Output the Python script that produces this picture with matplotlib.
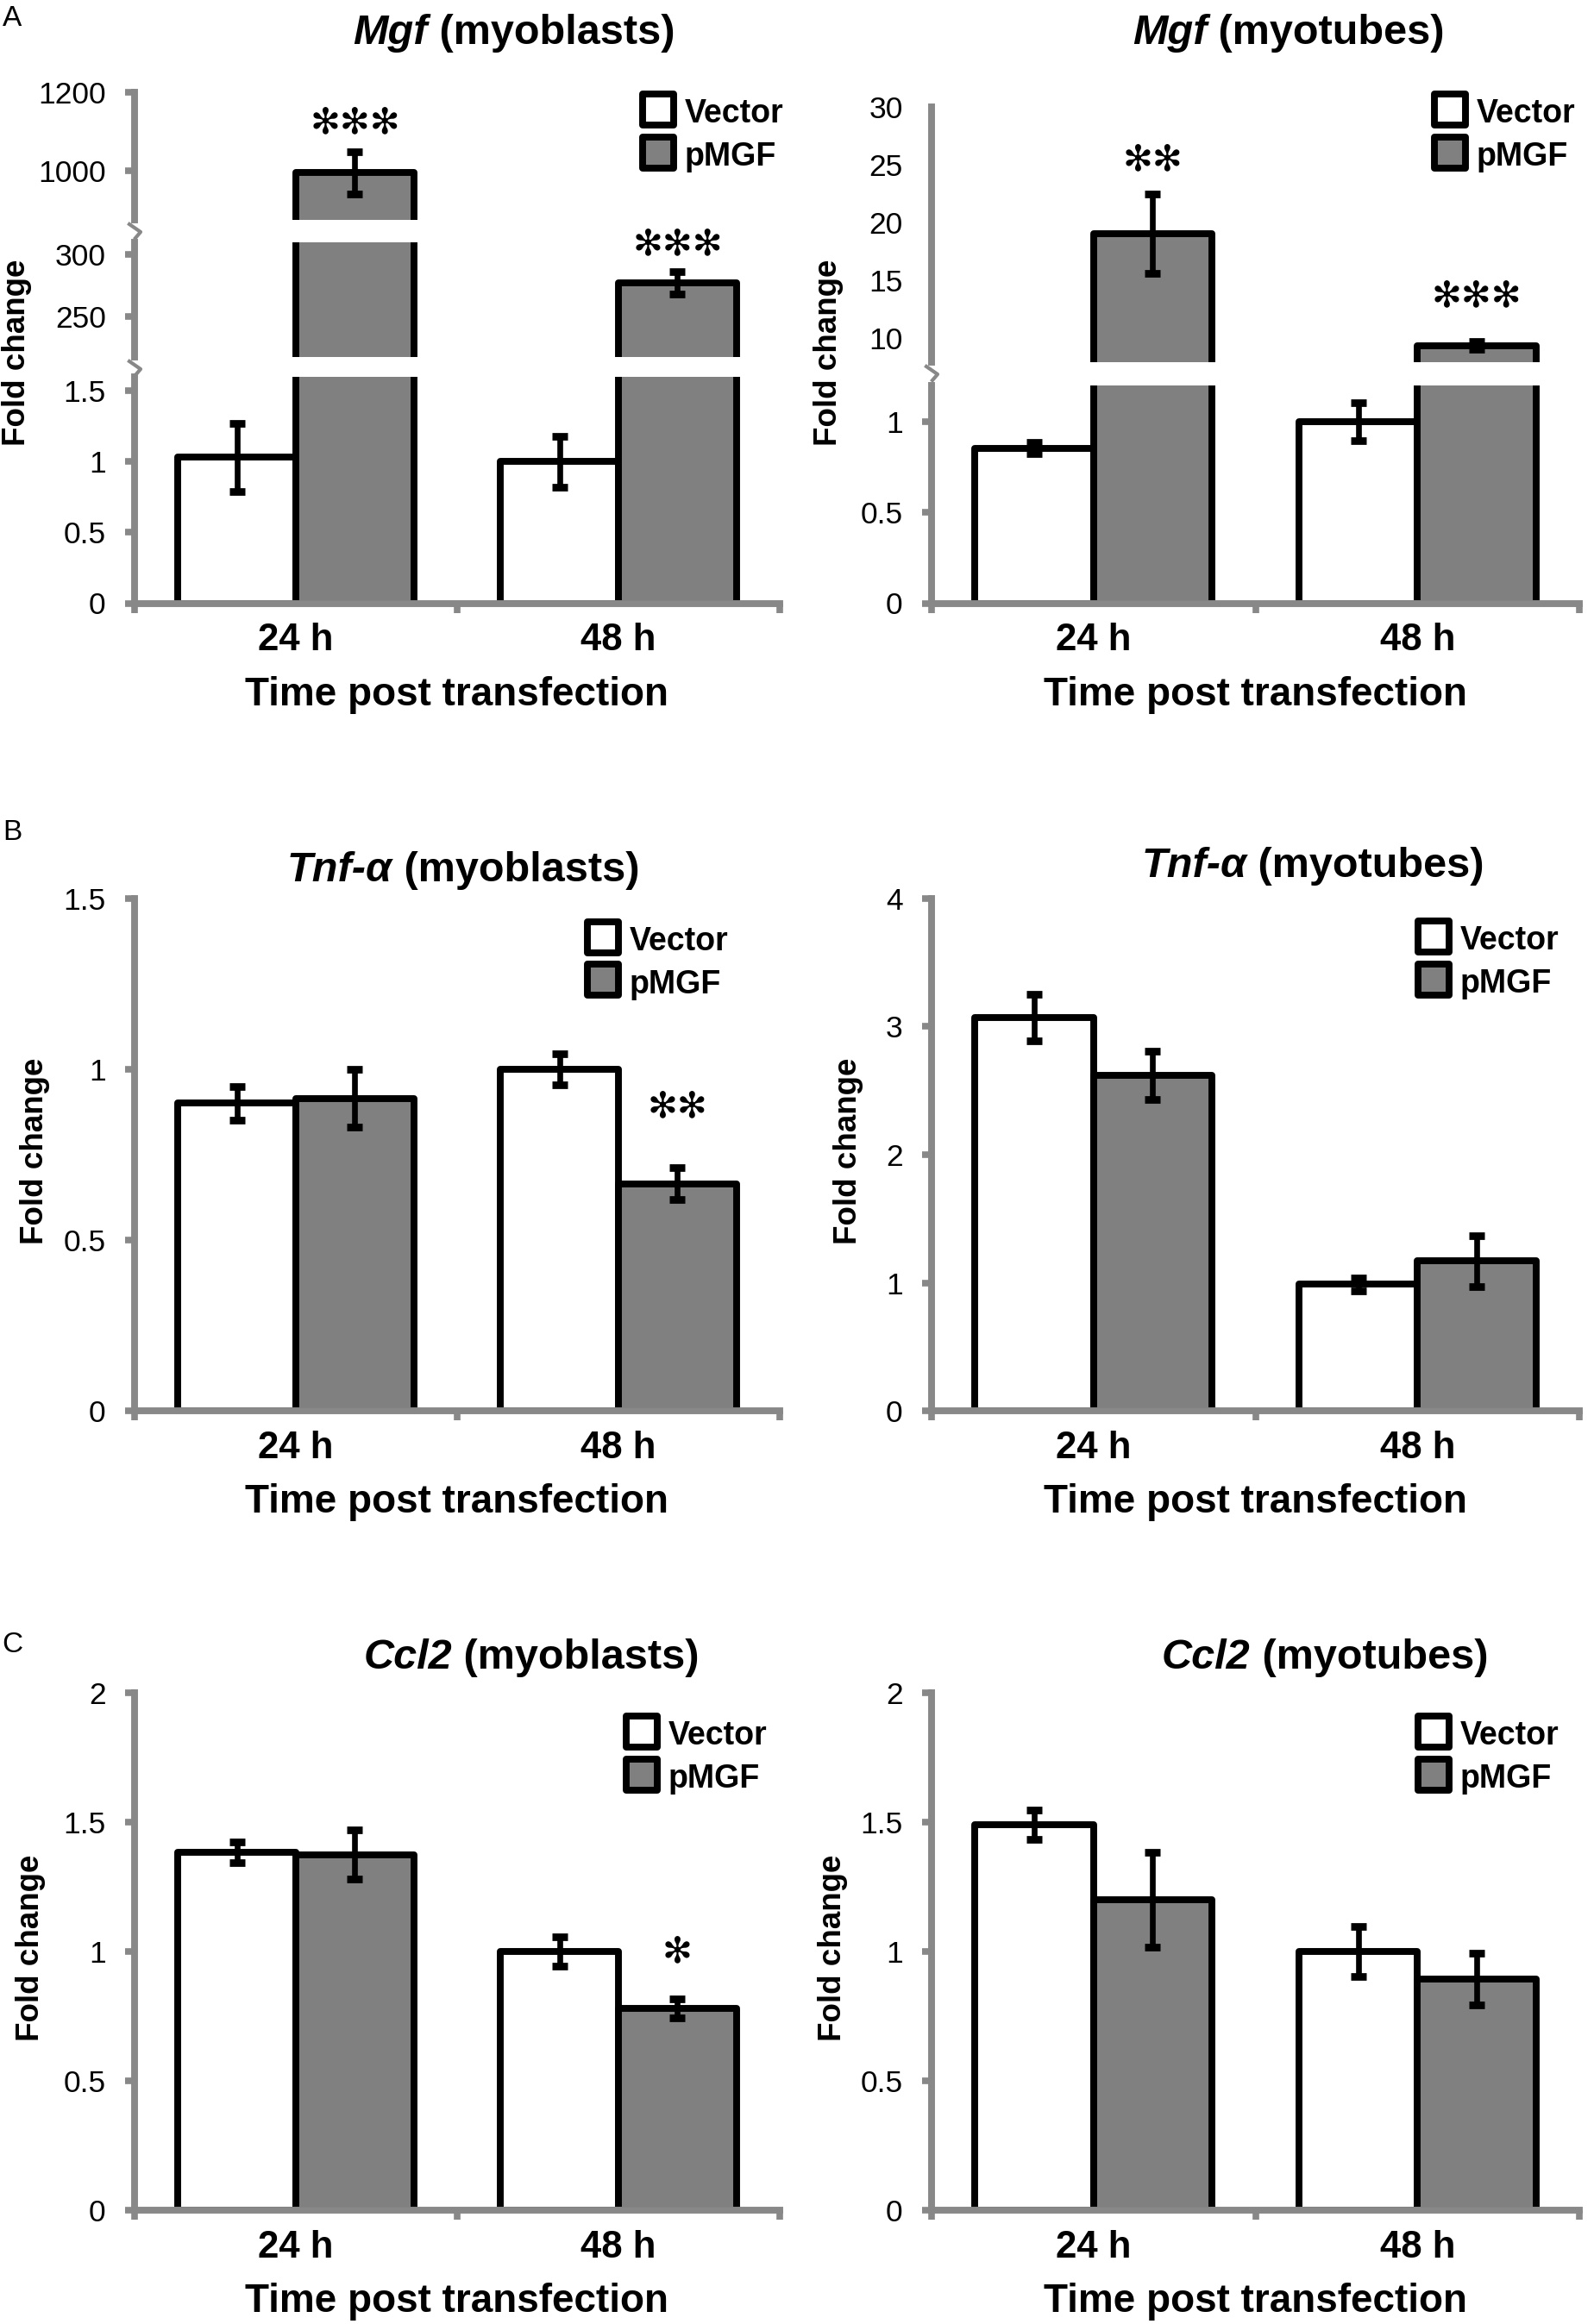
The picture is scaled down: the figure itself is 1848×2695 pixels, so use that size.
import numpy as np
import matplotlib.pyplot as plt
from matplotlib.patches import Rectangle
from matplotlib.lines import Line2D
from matplotlib.offsetbox import TextArea, HPacker, AnnotationBbox
from matplotlib.ticker import FuncFormatter

plt.rcParams['font.family'] = ['Liberation Sans', 'DejaVu Sans']

W, H = 1849, 2695

times = ["24 h", "48 h"]
groups = ["Vector", "pMGF"]

# Mgf
mgf_blast_vec = [1.03, 1.00]
mgf_blast_vec_err = [0.24, 0.18]
mgf_blast_pm = [995, 277]
mgf_blast_pm_err = [53, 9]
mgf_tube_vec = [0.855, 1.00]
mgf_tube_vec_err = [0.03, 0.105]
mgf_tube_pm = [19.0, 9.35]
mgf_tube_pm_err = [3.45, 0.35]

# Tnf-a
tnf_blast_vec = [0.90, 1.00]
tnf_blast_vec_err = [0.05, 0.045]
tnf_blast_pm = [0.915, 0.665]
tnf_blast_pm_err = [0.085, 0.047]
tnf_tube_vec = [3.07, 0.99]
tnf_tube_vec_err = [0.18, 0.05]
tnf_tube_pm = [2.62, 1.17]
tnf_tube_pm_err = [0.19, 0.20]

# Ccl2
ccl2_blast_vec = [1.385, 1.00]
ccl2_blast_vec_err = [0.04, 0.058]
ccl2_blast_pm = [1.375, 0.78]
ccl2_blast_pm_err = [0.095, 0.038]
ccl2_tube_vec = [1.49, 1.00]
ccl2_tube_vec_err = [0.058, 0.096]
ccl2_tube_pm = [1.20, 0.895]
ccl2_tube_pm_err = [0.183, 0.10]

# significance marks (text, y level in data units) for pMGF bars
mgf_blast_sig = [("***", 1121), ("***", 307.9)]
mgf_tube_sig = [("**", 25.4), ("***", 13.65)]
tnf_blast_sig = [None, ("**", 0.89)]
tnf_tube_sig = [None, None]
ccl2_blast_sig = [None, ("*", 1.0)]
ccl2_tube_sig = [None, None]

GRAY = '#888888'
BARGRAY = '#808080'
AX_LW = 5.7
BAR_LW = 5.7
BW = 0.366

fig = plt.figure(figsize=(W / 100, H / 100), dpi=100)


def fx(px):
    return px / W


def fy(py):
    return 1 - py / H


fmt = FuncFormatter(lambda v, p: "%g" % v)


def make_segment(x0, x1, y0, y1, ylim, ticks, bottom, marks=True):
    ax = fig.add_axes([fx(x0), fy(y1), (x1 - x0) / W, (y1 - y0) / H])
    ax.set_xlim(-0.5, 1.5)
    ax.set_ylim(*ylim)
    for s in ['top', 'right']:
        ax.spines[s].set_visible(False)
    ax.spines['left'].set_color(GRAY)
    ax.spines['left'].set_linewidth(AX_LW)
    ax.spines['bottom'].set_color(GRAY)
    ax.spines['bottom'].set_linewidth(AX_LW)
    ax.set_yticks(ticks)
    ax.yaxis.set_major_formatter(fmt)
    if marks:
        ax.tick_params(axis='y', direction='out', length=8, width=5.5,
                       color=GRAY, labelsize=25.5, pad=16)
    else:
        ax.tick_params(axis='y', length=0, labelsize=25.5, pad=24)
    if bottom:
        ax.set_xticks([-0.5, 0.5, 1.5])
        ax.tick_params(axis='x', direction='out', length=8, width=5.5,
                       color=GRAY, labelbottom=False)
    else:
        ax.spines['bottom'].set_visible(False)
        ax.set_xticks([])
    ax.patch.set_alpha(0)
    return ax


def draw_bars(ax, vec, vec_err, pm, pm_err):
    x = np.arange(len(times))
    ax.bar(x - BW / 2, vec, BW, color='white', edgecolor='black',
           linewidth=BAR_LW, joinstyle='round', zorder=1)
    ax.bar(x + BW / 2, pm, BW, color=BARGRAY, edgecolor='black',
           linewidth=BAR_LW, joinstyle='round', zorder=1)
    for xs, v, e in [(x - BW / 2, vec, vec_err), (x + BW / 2, pm, pm_err)]:
        ax.errorbar(xs, v, yerr=e, fmt='none', ecolor='black',
                    elinewidth=4.8, capsize=6.8, capthick=6.3, zorder=3)


def squiggle(xa, ytop):
    pts = [(-6, 5), (7, 14), (1, 21)]
    xs = [fx(xa + a) for a, b in pts]
    ys = [fy(ytop + b) for a, b in pts]
    fig.add_artist(Line2D(xs, ys, color=GRAY, lw=3, transform=fig.transFigure))


def title(xc, yb, gene, rest):
    t1 = TextArea(gene, textprops=dict(fontsize=35, fontweight='bold',
                                       fontstyle='italic'))
    t2 = TextArea(rest, textprops=dict(fontsize=35, fontweight='bold'))
    box = HPacker(children=[t1, t2], align='baseline', pad=0, sep=0)
    ab = AnnotationBbox(box, (fx(xc), fy(yb + 10)), xycoords='figure fraction',
                        box_alignment=(0.5, 0), frameon=False, pad=0)
    fig.add_artist(ab)


def legend(xl, yc):
    for i, (name, col) in enumerate(zip(groups, ['white', BARGRAY])):
        y = yc + i * 50
        fig.add_artist(Rectangle((fx(xl + 4), fy(y + 18)), 36 / W, 36 / H,
                                 facecolor=col, edgecolor='black', lw=5.7,
                                 joinstyle='round', transform=fig.transFigure))
        fig.text(fx(xl + 53), fy(y + 15), name, fontsize=27,
                 fontweight='bold', va='baseline', ha='left')


def labels(ax):
    for i, t in enumerate(times):
        ax.annotate(t, xy=(i, 0), xycoords=('data', 'axes fraction'),
                    xytext=(0, -55 * 0.72), textcoords='offset points',
                    ha='center', va='baseline', fontsize=31.5, fontweight='bold')
    ax.annotate("Time post transfection", xy=(0.5, 0), xycoords='axes fraction',
                xytext=(0, -118 * 0.72), textcoords='offset points',
                ha='center', va='baseline', fontsize=33, fontweight='bold')


def stars(axes, sig):
    for i, s in enumerate(sig):
        if s is None:
            continue
        txt, yv = s
        for ax in axes:
            lo, hi = ax.get_ylim()
            if lo <= yv <= hi:
                ax.text(i + BW / 2, yv, txt.replace("*", "\u273b"), ha='center',
                        va='center', fontsize=30, family='DejaVu Sans',
                        clip_on=False, zorder=5)
                break


LEFT = (156, 904)
RIGHT = (1080, 1831)

# ---- Row A ----
a_low = make_segment(*LEFT, 437, 699.5, (0, 1.597), [0, 0.5, 1, 1.5], True)
a_mid = make_segment(*LEFT, 281, 414, (217.4, 309.7), [250, 300], False)
a_top = make_segment(*LEFT, 106.6, 255, (875.3, 1200), [1000, 1200], False)
for ax in (a_low, a_mid, a_top):
    draw_bars(ax, mgf_blast_vec, mgf_blast_vec_err, mgf_blast_pm, mgf_blast_pm_err)
stars([a_top, a_mid], mgf_blast_sig)
labels(a_low)
squiggle(LEFT[0], 255)
squiggle(LEFT[0], 414)

b_low = make_segment(*RIGHT, 447, 699.5, (0, 1.2), [0, 0.5, 1], True)
b_up = make_segment(*RIGHT, 123.8, 420, (7.9, 30), [10, 15, 20, 25, 30], False,
                    marks=False)
for ax in (b_low, b_up):
    draw_bars(ax, mgf_tube_vec, mgf_tube_vec_err, mgf_tube_pm, mgf_tube_pm_err)
stars([b_up], mgf_tube_sig)
labels(b_low)
squiggle(RIGHT[0], 420)

title(596, 51, "Mgf", " (myoblasts)")
title(1494, 51, "Mgf", " (myotubes)")
legend(741, 127)
legend(1659, 127)

# ---- Row B ----
c_l = make_segment(*LEFT, 1041.6, 1636.3, (0, 1.5), [0, 0.5, 1, 1.5], True)
draw_bars(c_l, tnf_blast_vec, tnf_blast_vec_err, tnf_blast_pm, tnf_blast_pm_err)
stars([c_l], tnf_blast_sig)
labels(c_l)
c_r = make_segment(*RIGHT, 1041.6, 1636.3, (0, 4), [0, 1, 2, 3, 4], True)
draw_bars(c_r, tnf_tube_vec, tnf_tube_vec_err, tnf_tube_pm, tnf_tube_pm_err)
stars([c_r], tnf_tube_sig)
labels(c_r)
title(537, 1022, "Tnf-\u03b1", " (myoblasts)")
title(1522, 1017, "Tnf-\u03b1", " (myotubes)")
legend(677, 1086.5)
legend(1640, 1086)

# ---- Row C ----
d_l = make_segment(*LEFT, 1963, 2563, (0, 2), [0, 0.5, 1, 1.5, 2], True)
draw_bars(d_l, ccl2_blast_vec, ccl2_blast_vec_err, ccl2_blast_pm, ccl2_blast_pm_err)
stars([d_l], ccl2_blast_sig)
labels(d_l)
d_r = make_segment(*RIGHT, 1963, 2563, (0, 2), [0, 0.5, 1, 1.5, 2], True)
draw_bars(d_r, ccl2_tube_vec, ccl2_tube_vec_err, ccl2_tube_pm, ccl2_tube_pm_err)
stars([d_r], ccl2_tube_sig)
labels(d_r)
title(616, 1935, "Ccl2", " (myoblasts)")
title(1536, 1935, "Ccl2", " (myotubes)")
legend(722, 2008)
legend(1640, 2008)

# y labels
for xp, yp in [(20, 409), (961, 409), (41, 1335), (984, 1335), (36, 2259), (966, 2259)]:
    fig.text(fx(xp), fy(yp), "Fold change", rotation=90, ha='center',
             va='center', fontsize=26.5, fontweight='bold')

# panel letters
for letter, yp in [("A", 21), ("B", 966), ("C", 1908)]:
    fig.text(fx(14), fy(yp), letter, ha='center', va='center', fontsize=24)

fig.savefig("out.png", dpi=100)
